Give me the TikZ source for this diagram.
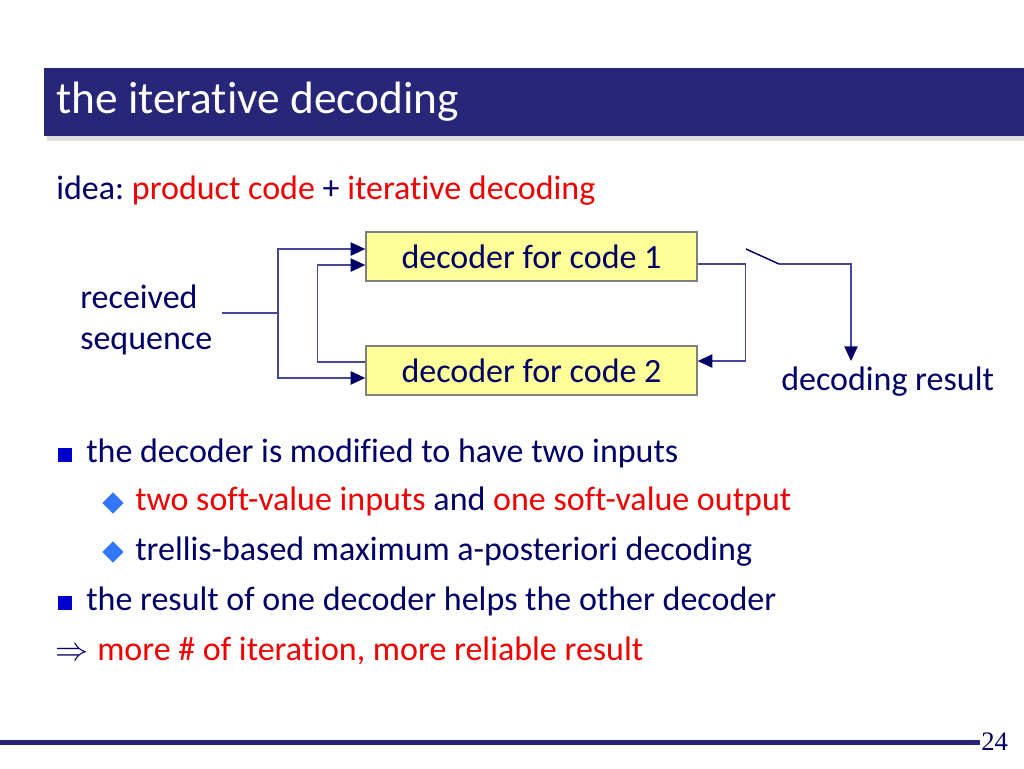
\documentclass[tikz,border=0pt]{standalone}
\usepackage{fontspec}
\setmainfont{Carlito}[RawFeature={-liga;-clig;-dlig}]
\newfontfamily\numfont{Liberation Serif}
\usetikzlibrary{arrows.meta,shapes.geometric,calc}
\frenchspacing
\definecolor{navy}{RGB}{0,0,102}
\definecolor{titlebar}{RGB}{40,38,120}
\definecolor{redtxt}{RGB}{240,0,0}
\definecolor{linec}{RGB}{70,70,155}
\definecolor{sqblue}{RGB}{0,0,204}
\definecolor{diablue}{RGB}{51,119,255}
\definecolor{boxfill}{RGB}{255,255,153}
\definecolor{boxedge}{RGB}{128,128,128}
\tikzset{
  txt/.style={anchor=base west, inner sep=0pt, text=navy, font=\fontsize{25.5}{30}\selectfont},
  decbox/.style={draw=boxedge, line width=1.1pt, fill=boxfill, minimum width=248.25pt, minimum height=36.75pt, inner sep=0pt, text=navy, font=\fontsize{25.5}{30}\selectfont},
  conn/.style={draw=linec, line width=1.1pt},
  tip/.style={-{Triangle[length=11pt,width=10pt,color=navy]}},
  sqbullet/.style={rectangle, fill=sqblue, minimum size=11pt, inner sep=0pt},
  diabullet/.style={diamond, fill=diablue, minimum width=16pt, minimum height=16pt, inner sep=0pt}
}
\begin{document}
\begin{tikzpicture}[x=0.75pt,y=-0.75pt]
\useasboundingbox (0,0) rectangle (1024,768);
\fill[white] (0,0) rectangle (1024,768);
% title bar
\fill[gray!25] (47,136) rectangle (1024,141);
\fill[titlebar] (44,68) rectangle (1024,136);
\node[anchor=base west, inner sep=0pt, text=white, font=\fontsize{34}{40}\selectfont] (title) at (56,113) {the iterative decoding};
% idea line
\node[txt] (idea) at (56,199) {idea: \textcolor{redtxt}{product code} + \textcolor{redtxt}{iterative decoding}};
% diagram
\node[decbox] (b1) at (531.5,256.5) {decoder for code 1};
\node[decbox] (b2) at (531.5,370.5) {decoder for code 2};
\node[txt] (rec1) at (80,308) {received};
\node[txt] (rec2) at (80,349) {sequence};
\node[txt] (res) at (781,390) {decoding result};
\coordinate (rx) at (222,313);
\coordinate (jx) at (278,313);
\coordinate (s1) at (746,249);
\coordinate (s2) at (779,264);
\coordinate (out) at (851,361);
\draw[conn] (rx) -- (jx);
\draw[conn,tip] (jx) |- ([yshift=5.6pt]b1.west);
\draw[conn,tip] (jx) |- ([yshift=-5.6pt]b2.west);
\draw[conn,tip] ([yshift=6.4pt]b2.west) -- ++(-48,0) |- ([yshift=-6.4pt]b1.west);
\draw[conn,tip] ([yshift=-5.6pt]b1.east) -- ++(48,0) |- ([yshift=7.1pt]b2.east);
\draw[navy, line width=1.1pt] (s1) -- (s2);
\draw[conn,tip] (s2) -| (out);
% bullets
\node[sqbullet] (q1) at (65,455) {};
\node[txt] (l1) at (86,462) {the decoder is modified to have two inputs};
\node[diabullet] (d1) at (113,503) {};
\node[txt] (l2) at (135,510) {\textcolor{redtxt}{two soft-value inputs} and \textcolor{redtxt}{one soft-value output}};
\node[diabullet] (d2) at (113,552) {};
\node[txt] (l3) at (135,560) {trellis-based maximum a-posteriori decoding};
\node[sqbullet] (q2) at (65,603) {};
\node[txt] (l4) at (86,610) {the result of one decoder helps the other decoder};
\node[txt] (imp) at (55,660) {$\Rightarrow$};
\node[txt, text=redtxt] (l5) at (97,660) {more \# of iteration, more reliable result};
% footer
\draw[titlebar, line width=3.75pt] (0,742) -- (980,742);
\node[anchor=base west, inner sep=0pt, text=navy, font=\numfont\fontsize{20}{24}\selectfont] (pg) at (981,750) {24};
\end{tikzpicture}
\end{document}
